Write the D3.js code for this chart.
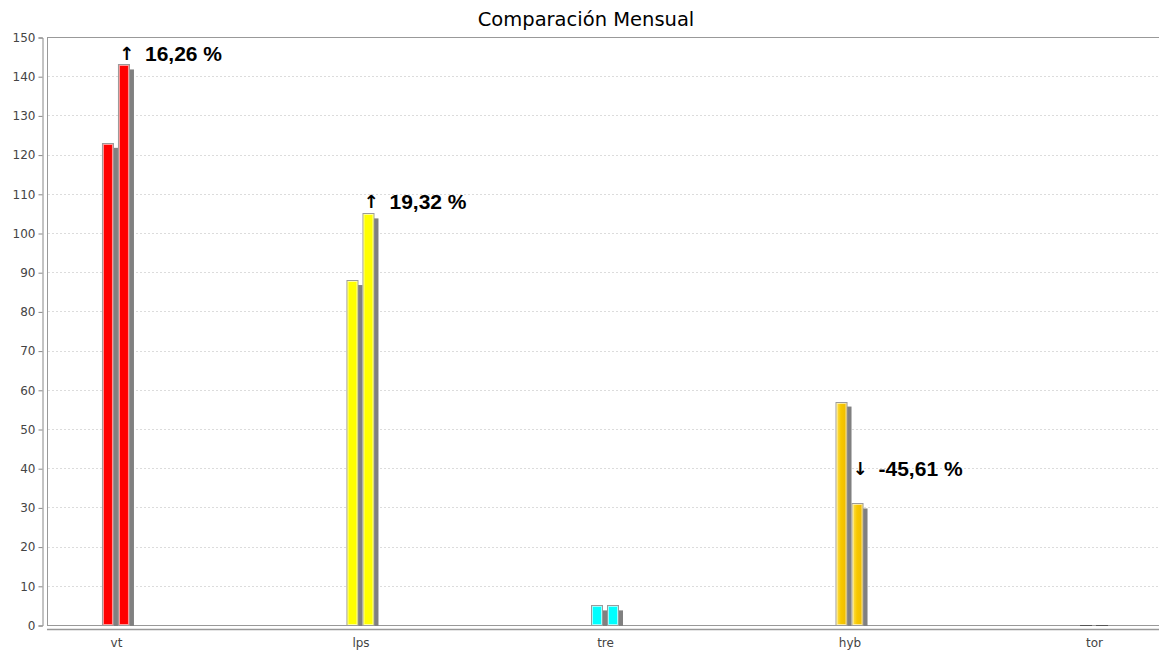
<!DOCTYPE html>
<html>
<head>
<meta charset="utf-8">
<script src="https://cdn.jsdelivr.net/npm/d3@7"></script>
<style>
  body { margin: 0; background: #fff; }
  svg { display: block; }
</style>
</head>
<body>
<div id="chart"></div>
<script>
// data
const categories = ["vt", "lps", "tre", "hyb", "tor"];
const series = ["anterior", "actual"];
const previousValues = [123, 88, 5, 57, 0];
const currentValues = [143, 105, 5, 31, 0];
const barColors = ["#ff0000", "#ffff00", "#00ffff", "url(#goldGrad)", "#ff0000"];
const yTicks = d3.range(0, 151, 10);
// change labels: arrow, text and the value they sit at
const changeArrows = ["↑", "↑", null, "↓", null];
const changeLabels = ["16,26 %", "19,32 %", null, "-45,61 %", null];
const changeLabelAt = [144, 106, null, 38, null];

const width = 1159;
const height = 654;
const plot = {left: 47, top: 37, right: 1165, bottom: 625};
const shadowDx = 4, shadowDy = 5;

const svg = d3.select("#chart").append("svg")
    .attr("width", width)
    .attr("height", height)
    .style("font-family", "'DejaVu Sans', sans-serif");

const defs = svg.append("defs");
const gold = defs.append("linearGradient").attr("id", "goldGrad")
    .attr("x1", "0%").attr("x2", "100%").attr("y1", "0%").attr("y2", "0%");
gold.append("stop").attr("offset", "0%").attr("stop-color", "#ffe45a");
gold.append("stop").attr("offset", "45%").attr("stop-color", "#f7c800");
gold.append("stop").attr("offset", "100%").attr("stop-color", "#eebb00");

defs.append("clipPath").attr("id", "plotClip")
    .append("rect")
    .attr("x", plot.left).attr("y", plot.top)
    .attr("width", plot.right - plot.left).attr("height", plot.bottom - plot.top + 1);

const y = d3.scaleLinear()
    .domain([0, 150])
    .range([plot.bottom, plot.top]);

const x = d3.scalePoint()
    .domain(categories)
    .range([plot.left, 1163])
    .padding(0.282);

const xs = d3.scaleBand()
    .domain(series)
    .range([-14, 14])
    .paddingInner(0.25);

// title
svg.append("text")
    .attr("x", 586)
    .attr("y", 26)
    .attr("text-anchor", "middle")
    .style("font-size", "19.5px")
    .attr("fill", "#000")
    .text("Comparación Mensual");

// plot background + grid
svg.append("rect")
    .attr("x", plot.left + 0.5).attr("y", plot.top + 0.5)
    .attr("width", plot.right - plot.left).attr("height", plot.bottom - plot.top)
    .attr("fill", "#fff")
    .attr("stroke", "#999");

svg.append("g")
    .selectAll("line")
    .data(yTicks.filter(d => d > 0 && d < 150))
    .join("line")
    .attr("x1", plot.left + 1).attr("x2", plot.right)
    .attr("y1", d => Math.round(y(d)) + 0.5)
    .attr("y2", d => Math.round(y(d)) + 0.5)
    .attr("stroke", "#dcdcdc")
    .attr("stroke-dasharray", "2,2");

// y axis
const yAxis = svg.append("g")
    .attr("transform", "translate(42.5,0.5)")
    .call(d3.axisLeft(y).tickValues(yTicks).tickSize(4).tickPadding(3));
yAxis.select(".domain").attr("stroke", "#888");
yAxis.selectAll(".tick line").attr("stroke", "#888");
yAxis.selectAll("text")
    .attr("fill", "#444")
    .style("font-size", "12px")
    .style("font-family", "'DejaVu Sans', sans-serif");

// x axis
const xAxis = svg.append("g")
    .attr("transform", "translate(0,629.5)")
    .call(d3.axisBottom(x).tickSize(0).tickPadding(9));
xAxis.select(".domain")
    .attr("d", `M${plot.left},0H${plot.right}`)
    .attr("stroke", "#999")
    .attr("stroke-width", 1.5);
xAxis.selectAll("text")
    .attr("fill", "#444")
    .style("font-size", "12px")
    .style("font-family", "'DejaVu Sans', sans-serif");

// bars
const bars = [];
categories.forEach((c, i) => {
    bars.push({cat: c, s: series[0], v: previousValues[i], color: barColors[i]});
    bars.push({cat: c, s: series[1], v: currentValues[i], color: barColors[i]});
});
const nonZero = bars.filter(d => d.v > 0);

const barG = svg.append("g").attr("clip-path", "url(#plotClip)");

barG.selectAll(".shadow")
    .data(nonZero)
    .join("rect")
    .attr("class", "shadow")
    .attr("x", d => x(d.cat) + xs(d.s) + shadowDx)
    .attr("y", d => y(d.v) + shadowDy)
    .attr("width", xs.bandwidth())
    .attr("height", d => plot.bottom - y(d.v))
    .attr("fill", "#808080");

barG.selectAll(".bar")
    .data(nonZero)
    .join("rect")
    .attr("class", "bar")
    .attr("x", d => x(d.cat) + xs(d.s) + 0.5)
    .attr("y", d => Math.round(y(d.v)) + 0.5)
    .attr("width", xs.bandwidth() - 1)
    .attr("height", d => plot.bottom - Math.round(y(d.v)))
    .attr("fill", d => d.color)
    .attr("stroke", "#9a9a9a");

barG.selectAll(".hl")
    .data(nonZero)
    .join("rect")
    .attr("class", "hl")
    .attr("x", d => x(d.cat) + xs(d.s) + 1.5)
    .attr("y", d => Math.round(y(d.v)) + 1.5)
    .attr("width", xs.bandwidth() - 3)
    .attr("height", d => plot.bottom - Math.round(y(d.v)) - 2)
    .attr("fill", "none")
    .attr("stroke", "#fff")
    .attr("stroke-opacity", 0.6);

// zero-height bars drawn as flat dark strokes
barG.selectAll(".zero")
    .data(bars.filter(d => d.v === 0))
    .join("line")
    .attr("class", "zero")
    .attr("x1", d => x(d.cat) + xs(d.s))
    .attr("x2", d => x(d.cat) + xs(d.s) + xs.bandwidth())
    .attr("y1", d => y(d.v) + 0.5)
    .attr("y2", d => y(d.v) + 0.5)
    .attr("stroke", "#555");

// change labels
const lbl = svg.append("g")
    .selectAll("g")
    .data(categories.map((c, i) => ({c, a: changeArrows[i], t: changeLabels[i], at: changeLabelAt[i]})).filter(d => d.t))
    .join("g");

lbl.append("text")
    .attr("x", d => x(d.c) + 3)
    .attr("y", d => y(d.at) - 1)
    .attr("fill", "#000")
    .style("font-family", "'DejaVu Sans', sans-serif")
    .style("font-weight", "bold")
    .style("font-size", "18px")
    .text(d => d.a);

lbl.append("text")
    .attr("x", d => x(d.c) + 29)
    .attr("y", d => y(d.at))
    .attr("fill", "#000")
    .style("font-family", "'Liberation Sans', Arial, sans-serif")
    .style("font-weight", "bold")
    .style("font-size", "21px")
    .text(d => d.t);
</script>
</body>
</html>
